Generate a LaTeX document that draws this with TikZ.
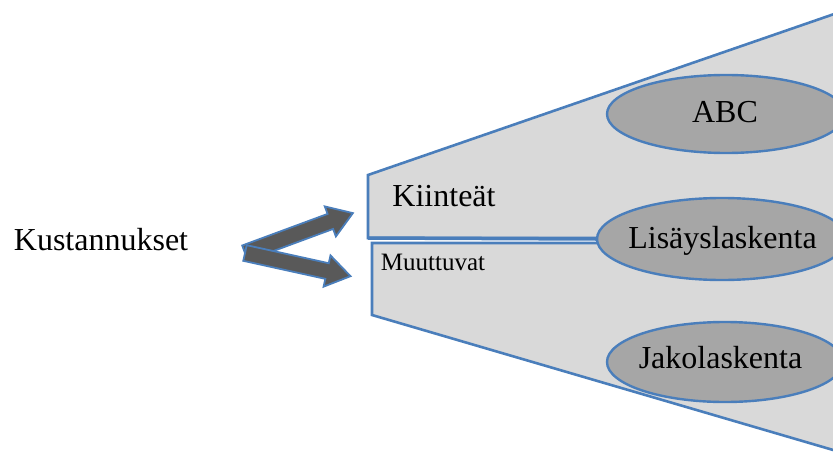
\documentclass[tikz,border=0pt]{standalone}
\usepackage{fontspec}
\setmainfont{Liberation Serif}
\usetikzlibrary{shapes.geometric}
\definecolor{edgeblue}{HTML}{4A7EBB}
\definecolor{panelgray}{HTML}{D9D9D9}
\definecolor{ovalgray}{HTML}{A6A6A6}
\definecolor{arrowgray}{HTML}{595959}
\tikzset{
  panel/.style={draw=edgeblue, fill=panelgray, line width=2.6pt, line join=miter},
  oval/.style={ellipse, draw=edgeblue, fill=ovalgray, line width=2.4pt, inner sep=0pt},
  serifbig/.style={font=\fontsize{32}{34}\selectfont, inner sep=0pt, anchor=base},
  serifmid/.style={font=\fontsize{25}{27}\selectfont, inner sep=0pt, anchor=base},
  fatarrow/.style={draw=edgeblue, fill=arrowgray, line width=1.8pt, line join=miter},
}
\begin{document}
\begin{tikzpicture}[x=1pt,y=-1pt]
\useasboundingbox (0,0) rectangle (833,452);
\clip (0,0) rectangle (833,452);
% panels
\draw[panel] (368,175) -- (840,12) -- (840,238) -- (368,238) -- cycle;
\draw[panel] (372,243) -- (840,243) -- (840,452) -- (372,315) -- cycle;
% ovals
\node[oval, minimum width=238pt, minimum height=78pt] (abc) at (726,114) {};
\node[oval, minimum width=250pt, minimum height=82pt] (lis) at (722,239) {};
\node[oval, minimum width=236pt, minimum height=80pt] (jak) at (725,362) {};
\node[serifbig] (abct) at (725,122) {ABC};
\node[serifbig] (list) at (722.5,248) {Lisäyslaskenta};
\node[serifbig] (jakt) at (720.5,368) {Jakolaskenta};
% connector from Kiinteät panel to Lisäyslaskenta
\coordinate (kl) at (368,238);
\draw[edgeblue, line width=3.5pt] (kl) -- (lis.west);
% texts
\node[serifbig] (kus) at (101,250) {Kustannukset};
\node[serifbig] (kii) at (444,206) {Kiinteät};
\node[serifmid] (muu) at (433,270) {Muuttuvat};
% arrows
\coordinate (tail) at (245,253);
\begin{scope}[shift={(tail)}, rotate=20.3]
  \draw[fatarrow] (0,-8) -- (91,-8) -- (91,-16) -- (115,0) -- (91,16) -- (91,8) -- (0,8) -- cycle;
\end{scope}
\begin{scope}[shift={(tail)}, rotate=-12.4]
  \draw[fatarrow] (0,-8) -- (84,-8) -- (84,-16) -- (108,0) -- (84,16) -- (84,8) -- (0,8) -- cycle;
\end{scope}
\end{tikzpicture}
\end{document}
